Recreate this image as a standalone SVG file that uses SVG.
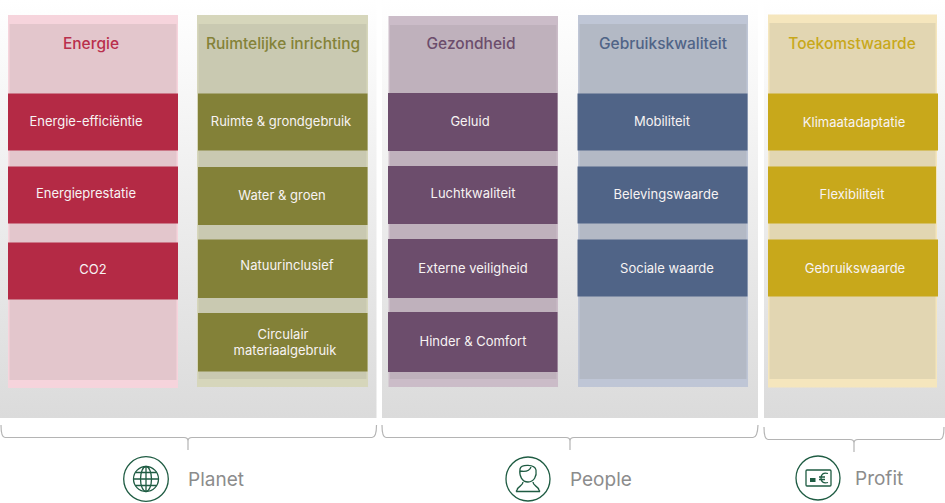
<svg xmlns="http://www.w3.org/2000/svg" width="945" height="503" viewBox="0 0 945 503">
<style>
text{font-family:Inter,"Liberation Sans",sans-serif;text-anchor:middle}
.h{font-size:15.5px;font-weight:500}
.t{font-size:13px;fill:#f7f3f3}
.g{font-size:19px;fill:#8c8c8c;text-anchor:start}
.b{fill:none;stroke:#b4b4b4;stroke-width:1.2}
.ic{fill:none;stroke:#1f5c43;stroke-width:1.3}
.red{fill:#b42a45}.ol{fill:#838138}.pu{fill:#6c4d6c}.bl{fill:#506487}.ye{fill:#c8a81b}
</style>
<defs>
<linearGradient id="bg" x1="0" y1="0" x2="0" y2="1"><stop offset="0" stop-color="#fff"/><stop offset="1" stop-color="#dbdbdb"/></linearGradient>
</defs>
<g id="panels">
<rect x="0" y="0" width="376.500" height="418" fill="url(#bg)"/>
<rect x="382" y="0" width="376" height="418" fill="url(#bg)"/>
<rect x="764" y="0" width="181" height="418" fill="url(#bg)"/>
</g>
<g id="col-energie">
<rect x="8" y="15" width="170" height="373" fill="#f6d4dc"/>
<rect x="9.500" y="24" width="167" height="356" fill="#e3c6cc"/>
<text class="h" x="91" y="49" fill="#b92f4c">Energie</text>
</g>
<g id="col-ruimte">
<rect x="197" y="15" width="171" height="372" fill="#d6d6bb"/>
<rect x="198.500" y="24" width="168" height="355" fill="#c9c9b1"/>
<text class="h" x="283" y="49" fill="#848238">Ruimtelijke inrichting</text>
</g>
<g id="col-gezondheid">
<rect x="388.500" y="16" width="169.500" height="371" fill="#cbbcc8"/>
<rect x="390" y="25" width="166.500" height="354" fill="#bfb1bc"/>
<text class="h" x="471" y="48.500" fill="#6c4d6c">Gezondheid</text>
</g>
<g id="col-gebruik">
<rect x="578" y="15" width="170" height="372" fill="#bfc6d6"/>
<rect x="579.500" y="24" width="167" height="355" fill="#b3b9c5"/>
<text class="h" x="663" y="49" fill="#506487">Gebruikskwaliteit</text>
</g>
<g id="col-toekomst">
<rect x="768" y="14.500" width="169" height="373" fill="#f5e6bd"/>
<rect x="769.500" y="23" width="166" height="356" fill="#e2d6b2"/>
<text class="h" x="852" y="48.500" fill="#c8a81b">Toekomstwaarde</text>
</g>
<g id="n-energie-efficientie"><rect class="red" x="8" y="93.500" width="170" height="57"/><text class="t" x="86" y="126">Energie-efficiëntie</text></g>
<g id="n-energieprestatie"><rect class="red" x="8" y="166.500" width="170" height="57"/><text class="t" x="86" y="198">Energieprestatie</text></g>
<g id="n-co2"><rect class="red" x="8" y="242.500" width="170" height="57"/><text class="t" x="93" y="274">CO2</text></g>
<g id="n-ruimte"><rect class="ol" x="198" y="93.500" width="169.500" height="57"/><text class="t" x="281" y="126">Ruimte &amp; grondgebruik</text></g>
<g id="n-water"><rect class="ol" x="198" y="167" width="169.500" height="58"/><text class="t" x="282" y="200">Water &amp; groen</text></g>
<g id="n-natuur"><rect class="ol" x="198" y="239.500" width="169.500" height="58.500"/><text class="t" x="287" y="270">Natuurinclusief</text></g>
<g id="n-circulair"><rect class="ol" x="198" y="313" width="169.500" height="58.500"/><text class="t" x="283" y="339">Circulair</text><text class="t" x="285" y="355">materiaalgebruik</text></g>
<g id="n-geluid"><rect class="pu" x="388" y="93" width="169.500" height="58"/><text class="t" x="470" y="125.500">Geluid</text></g>
<g id="n-lucht"><rect class="pu" x="388" y="166" width="169.500" height="58"/><text class="t" x="473" y="198">Luchtkwaliteit</text></g>
<g id="n-extern"><rect class="pu" x="388" y="239" width="169.500" height="59"/><text class="t" x="473" y="273">Externe veiligheid</text></g>
<g id="n-hinder"><rect class="pu" x="388" y="312" width="169.500" height="60"/><text class="t" x="473" y="346">Hinder &amp; Comfort</text></g>
<g id="n-mobiliteit"><rect class="bl" x="577.500" y="93.500" width="170" height="57"/><text class="t" x="662" y="126">Mobiliteit</text></g>
<g id="n-beleving"><rect class="bl" x="577.500" y="166.500" width="170" height="57"/><text class="t" x="666" y="199">Belevingswaarde</text></g>
<g id="n-sociaal"><rect class="bl" x="577.500" y="239.500" width="170" height="57"/><text class="t" x="667" y="273">Sociale waarde</text></g>
<g id="n-klimaat"><rect class="ye" x="768" y="93.500" width="170" height="57"/><text class="t" x="854" y="127">Klimaatadaptatie</text></g>
<g id="n-flex"><rect class="ye" x="768" y="166.500" width="168" height="57"/><text class="t" x="852" y="199">Flexibiliteit</text></g>
<g id="n-gebruikswaarde"><rect class="ye" x="768" y="239.500" width="170" height="57"/><text class="t" x="855" y="273">Gebruikswaarde</text></g>
<g id="connectors">
<path class="b" d="M1 425Q1 437.500 5 437.500H184Q188 437.500 188 441V450M188 441Q188 437.500 192 437.500H372Q376.500 437.500 376.500 425"/>
<path class="b" d="M382 425Q382 437.500 386 437.500H566Q570 437.500 570 441V450M570 441Q570 437.500 574 437.500H753Q757.500 437.500 758 425"/>
<path class="b" d="M764 427Q764 439.500 768 439.500H850Q854 439.500 854 443V452M854 443Q854 439.500 858 439.500H940Q944 439.500 944 427"/>
</g>
<g id="planet">
<circle class="ic" cx="146" cy="479" r="22.300"/>
<g class="ic"><circle cx="146" cy="479" r="12.500"/><ellipse cx="146" cy="479" rx="5.500" ry="12.500"/><path d="M146 466.500V491.500M133.500 479H158.500M135.500 472.500H156.500M135.500 485.500H156.500"/></g>
<text class="g" x="188" y="486">Planet</text>
</g>
<g id="people">
<circle class="ic" cx="528" cy="479" r="22"/>
<g class="ic"><path d="M520 469C521 464 535 464 536 470C537 476 534 482 528 482C522 482 519 476 520 469ZM520 471C526 472 530 470 531 467"/><path d="M523 482C523 486 518 486 517 490L516 491.500M533 482C533 486 538 486 539 490L540 491.500M516 491.500H540"/></g>
<text class="g" x="570" y="486">People</text>
</g>
<g id="profit">
<circle class="ic" cx="818" cy="478" r="22"/>
<g class="ic"><rect x="806" y="470" width="25" height="16" rx="1"/><path d="M828 473.500C823 472 821 475 821 478C821 481 823 484 828 482.500M819 477H825M819 479.500H825"/></g>
<rect x="810" y="478" width="5.500" height="4" fill="#1f5c43"/>
<text class="g" x="855" y="485">Profit</text>
</g>
</svg>
